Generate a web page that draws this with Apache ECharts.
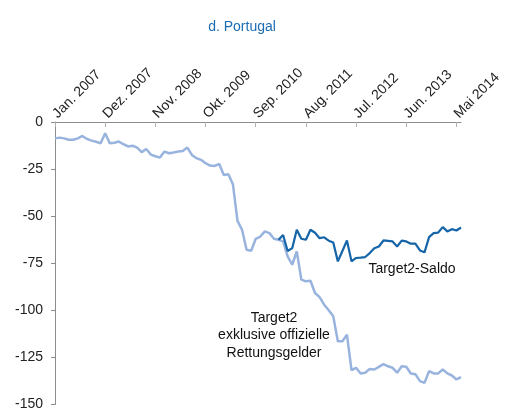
<!DOCTYPE html>
<html>
<head>
<meta charset="utf-8">
<script src="https://cdn.jsdelivr.net/npm/echarts@6/dist/echarts.min.js"></script>
<style>
  html, body { margin: 0; padding: 0; background: #fff; }
  #chart { width: 507px; height: 416px; }
</style>
</head>
<body>
<div id="chart"></div>
<script>
// Monate Jan. 2007 - Jun. 2014
var monthNames = ['Jan.', 'Feb.', 'Mrz.', 'Apr.', 'Mai', 'Jun.', 'Jul.', 'Aug.', 'Sep.', 'Okt.', 'Nov.', 'Dez.'];
var months = [];
for (var y = 2007; y <= 2014; y++) {
  for (var m = 0; m < 12; m++) {
    if (y === 2014 && m > 5) break;
    months.push(monthNames[m] + ' ' + y);
  }
}

// Target2 exklusive offizielle Rettungsgelder (Mrd. Euro)
var target2Exkl = [
  -8.7, -8.3, -8.7, -9.4, -9.4, -8.7, -7.4, -9.0, -9.9, -10.5,
  -11.3, -6.0, -11.3, -11.0, -10.4, -11.8, -13.0, -12.6, -13.6, -16.0,
  -14.3, -17.3, -18.2, -18.9, -15.7, -16.6, -16.2, -15.7, -15.4, -13.6,
  -17.5, -19.2, -20.1, -21.9, -23.1, -23.3, -22.3, -28.1, -27.7, -33.0,
  -52.5, -57.2, -67.8, -68.4, -62.0, -60.8, -58.1, -59.0, -62.0, -62.5,
  -63.4, -71.4, -75.8, -68.7, -83.7, -84.6, -84.3, -90.8, -93.0, -97.0,
  -100.0, -103.2, -116.4, -116.4, -112.9, -131.8, -130.5, -133.5, -133.1, -131.1,
  -131.4, -130.0, -128.6, -129.7, -130.5, -133.1, -129.7, -130.0, -133.5, -133.9,
  -137.6, -138.5, -132.3, -133.5, -133.5, -131.4, -133.5, -134.6, -136.7, -135.5
];

// Target2-Saldo, ab Feb. 2011 abweichend
var saldoStart = 49;
var target2SaldoTail = [
  -62.5, -60.0, -68.5, -67.0, -57.2, -62.0, -62.5, -57.2, -58.8, -61.7,
  -61.2, -63.0, -64.0, -74.0, -68.5, -62.9, -74.0, -72.2, -72.0, -71.7,
  -69.6, -67.0, -66.1, -62.9, -63.1, -63.4, -66.1, -63.0, -63.4, -64.6,
  -64.6, -68.2, -69.2, -61.1, -59.0, -58.7, -55.8, -58.1, -56.9, -57.6,
  -56.0
];

var yTicks = [0, -25, -50, -75, -100, -125, -150];

var target2Saldo = [];
for (var i = 0; i < months.length; i++) {
  target2Saldo.push(i < saldoStart ? null : target2SaldoTail[i - saldoStart]);
}

var font = '"Liberation Sans", Arial, Helvetica, sans-serif';
var myChart = echarts.init(document.getElementById('chart'));

var option = {
  animation: false,
  title: {
    text: 'd. Portugal',
    left: 237,
    top: 15,
    textAlign: 'center',
    textStyle: { color: '#1a6db5', fontSize: 14, fontWeight: 'normal', fontFamily: font }
  },
  grid: { left: 55, top: 122, width: 406, height: 282.5, containLabel: false },
  xAxis: {
    type: 'category',
    position: 'top',
    boundaryGap: false,
    data: months,
    axisLine: { lineStyle: { color: '#8c8c8c', width: 1 } },
    axisTick: { show: true, inside: true, length: 5, interval: 10, lineStyle: { color: '#b0b0b0' } },
    axisLabel: {
      interval: 10,
      rotate: 45,
      margin: 6,
      color: '#222',
      fontSize: 14,
      fontFamily: font
    },
    splitLine: { show: false }
  },
  yAxis: {
    type: 'value',
    min: yTicks[yTicks.length - 1],
    max: yTicks[0],
    interval: 25,
    axisLine: { show: true, lineStyle: { color: '#8c8c8c', width: 1 } },
    axisTick: { show: true, length: 4, lineStyle: { color: '#8c8c8c' } },
    axisLabel: { color: '#222', fontSize: 14, fontFamily: font, margin: 12 },
    splitLine: { show: false }
  },
  graphic: [
    {
      type: 'text', x: 412, y: 262,
      style: { text: 'Target2-Saldo', fill: '#111', font: '14px ' + font, align: 'center', verticalAlign: 'top' }
    },
    {
      type: 'text', x: 274, y: 309,
      style: {
        text: 'Target2\nexklusive offizielle\nRettungsgelder',
        fill: '#111', font: '14px ' + font, align: 'center', verticalAlign: 'top', lineHeight: 17.5
      }
    }
  ],
  series: [
    {
      name: 'Target2 exklusive offizielle Rettungsgelder',
      type: 'line',
      data: target2Exkl,
      symbol: 'none',
      lineStyle: { color: '#98b4de', width: 2.5 },
      z: 2
    },
    {
      name: 'Target2-Saldo',
      type: 'line',
      data: target2Saldo,
      symbol: 'none',
      lineStyle: { color: '#1565a8', width: 2.2 },
      z: 3
    }
  ]
};

myChart.setOption(option);
</script>
</body>
</html>
